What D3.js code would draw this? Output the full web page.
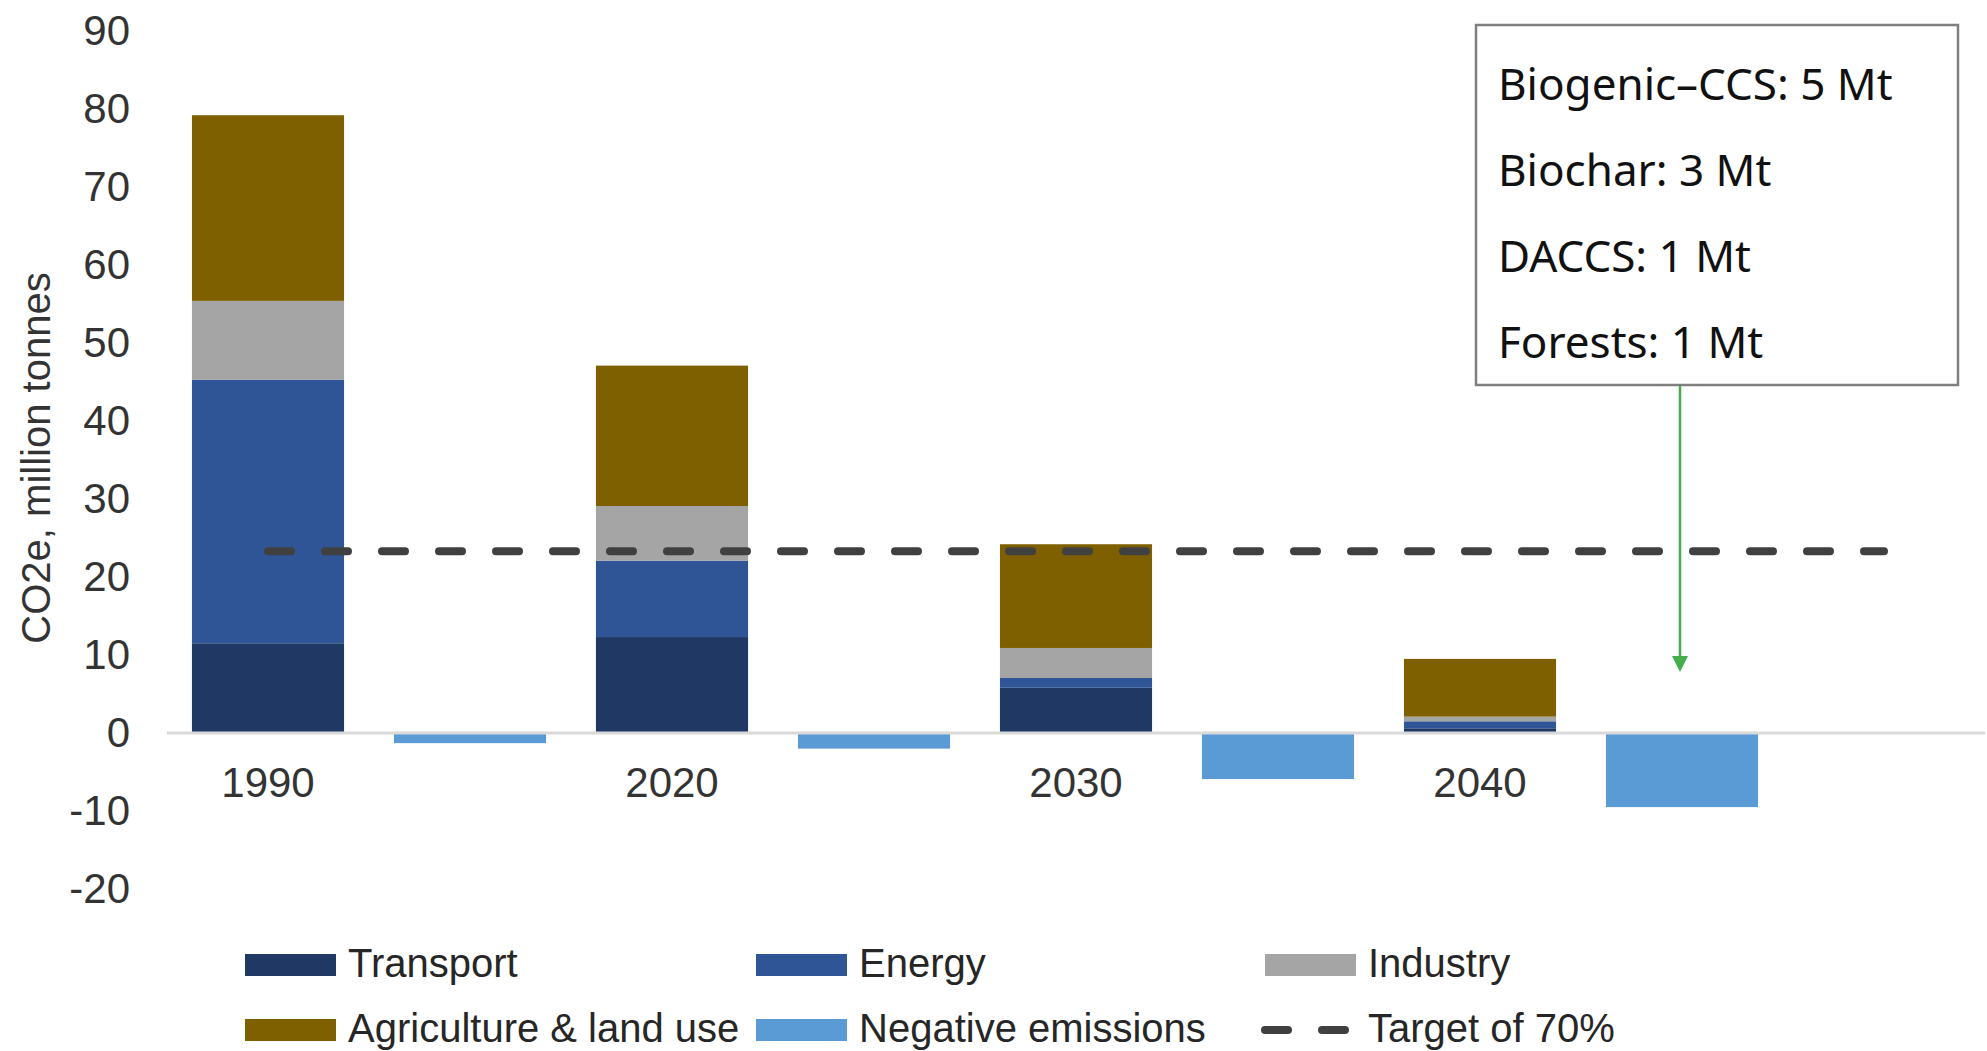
<!DOCTYPE html>
<html>
<head>
<meta charset="utf-8">
<script src="https://cdn.jsdelivr.net/npm/d3@7"></script>
<style>
  html, body { margin: 0; padding: 0; background: #fff; }
  svg { display: block; }
</style>
</head>
<body>
<script>
// Emissions by sector (million tonnes CO2e) and negative emissions per year
const years = ["1990", "2020", "2030", "2040"];
const transport = [11.5, 12.3, 5.8, 0.6];
const energy = [33.8, 9.8, 1.25, 0.9];
const industry = [10.1, 7.0, 3.85, 0.6];
const agriculture = [23.8, 18.0, 13.3, 7.4];
const negativeEmissions = [-1.3, -2.0, -5.9, -9.5];
const targetValue = 23.3;
const yTickValues = [-20, -10, 0, 10, 20, 30, 40, 50, 60, 70, 80, 90];
const removals2040 = ["Biogenic–CCS: 5 Mt", "Biochar: 3 Mt", "DACCS: 1 Mt", "Forests: 1 Mt"];

const sectorKeys = ["Transport", "Energy", "Industry", "Agriculture & land use"];
const sectorValues = [transport, energy, industry, agriculture];
const colors = {
  "Transport": "#203864",
  "Energy": "#2f5597",
  "Industry": "#a5a5a5",
  "Agriculture & land use": "#7f6000",
  "Negative emissions": "#5b9bd5"
};

const W = 1987, H = 1051;
const svg = d3.select("body").append("svg").attr("width", W).attr("height", H);

// each year gets a sector column followed by a removals column, plus one spare slot
const slots = years.flatMap(y => [y, y + "-neg"]).concat(["spare"]);
const x = d3.scaleBand().domain(slots).range([167, 1985])
  .paddingInner(0.247).paddingOuter(0.1235);
const y = d3.scaleLinear().domain([-20, 90]).range([889, 31]);

// stacked sector bars
const rows = years.map((yr, i) => {
  const r = { year: yr };
  sectorKeys.forEach((k, j) => r[k] = sectorValues[j][i]);
  return r;
});
const stacked = d3.stack().keys(sectorKeys)(rows);

svg.append("g").selectAll("g").data(stacked).join("g")
  .attr("fill", d => colors[d.key])
  .selectAll("rect").data(d => d).join("rect")
  .attr("x", d => x(d.data.year))
  .attr("width", x.bandwidth())
  .attr("y", d => y(d[1]))
  .attr("height", d => y(d[0]) - y(d[1]));

// negative emissions bars
svg.append("g").selectAll("rect").data(years).join("rect")
  .attr("fill", colors["Negative emissions"])
  .attr("x", yr => x(yr + "-neg"))
  .attr("width", x.bandwidth())
  .attr("y", y(0))
  .attr("height", (yr, i) => y(negativeEmissions[i]) - y(0));

// zero line
svg.append("line")
  .attr("x1", 167).attr("x2", 1985)
  .attr("y1", y(0)).attr("y2", y(0))
  .attr("stroke", "#d9d9d9").attr("stroke-width", 3);

// target line
const tLine = d3.line()
  .x(d => x(d) + x.bandwidth() / 2)
  .y(() => y(targetValue));
svg.append("path")
  .datum([slots[0], slots[slots.length - 1]])
  .attr("d", tLine)
  .attr("fill", "none")
  .attr("stroke", "#404040")
  .attr("stroke-width", 8)
  .attr("stroke-linecap", "round")
  .attr("stroke-dasharray", "23 34");

// y axis labels (plain hyphen for negatives)
const yAxis = d3.axisLeft(y).tickValues(yTickValues).tickFormat(d => String(d))
  .tickSize(0).tickPadding(0);
const gy = svg.append("g").attr("transform", "translate(130,0)").call(yAxis);
gy.select(".domain").remove();
gy.selectAll("text")
  .attr("font-family", "'Liberation Sans', Arial, sans-serif")
  .attr("font-size", 42)
  .attr("fill", "#333")
  .attr("dy", "0.33em");

// year labels under the sector bars
const xAxis = d3.axisBottom(x).tickValues(years).tickSize(0).tickPadding(0);
const gx = svg.append("g").attr("transform", `translate(0,${y(0)})`).call(xAxis);
gx.select(".domain").remove();
gx.selectAll("text")
  .attr("font-family", "'Liberation Sans', Arial, sans-serif")
  .attr("font-size", 42)
  .attr("fill", "#333")
  .attr("y", 0)
  .attr("dy", 64);

// y axis title
svg.append("text")
  .attr("transform", "translate(50,458) rotate(-90)")
  .attr("text-anchor", "middle")
  .attr("font-family", "'Liberation Sans', Arial, sans-serif")
  .attr("font-size", 40)
  .attr("fill", "#333")
  .text("CO2e, million tonnes");

// legend
const legendItems = [
  { key: "Transport", col: 0, row: 0 },
  { key: "Energy", col: 1, row: 0 },
  { key: "Industry", col: 2, row: 0 },
  { key: "Agriculture & land use", col: 0, row: 1 },
  { key: "Negative emissions", col: 1, row: 1 },
  { key: "Target of 70%", col: 2, row: 1, dashed: true }
];
const colX = [245, 756, 1265];
const rowY = [965, 1030];
const lg = svg.append("g").selectAll("g").data(legendItems).join("g")
  .attr("transform", d => `translate(${colX[d.col]},${rowY[d.row]})`);
lg.filter(d => !d.dashed).append("rect")
  .attr("x", 0).attr("y", -11).attr("width", 91).attr("height", 22)
  .attr("fill", d => colors[d.key]);
lg.filter(d => d.dashed).append("line")
  .attr("x1", 0).attr("x2", 84).attr("y1", 0).attr("y2", 0)
  .attr("stroke", "#404040").attr("stroke-width", 8)
  .attr("stroke-linecap", "round").attr("stroke-dasharray", "23 34");
lg.append("text")
  .attr("x", 103).attr("y", 12)
  .attr("font-family", "'Liberation Sans', Arial, sans-serif")
  .attr("font-size", 40)
  .attr("fill", "#262626")
  .text(d => d.key);

// breakdown of 2040 removals
const box = { x: 1476, y: 25, w: 482, h: 360 };
svg.append("rect")
  .attr("x", box.x).attr("y", box.y).attr("width", box.w).attr("height", box.h)
  .attr("fill", "#fff").attr("stroke", "#7f7f7f").attr("stroke-width", 2.5);
svg.append("g").selectAll("text").data(removals2040).join("text")
  .attr("x", box.x + 22)
  .attr("y", (d, i) => box.y + 75 + i * 86)
  .attr("font-family", "'Noto Sans', sans-serif")
  .attr("font-size", 44)
  .attr("fill", "#111")
  .text(d => d);

// arrow from the box to the 2040 removals bar
const ax = x("2040-neg") + x.bandwidth() / 2 - 2;
const tipY = 672;
svg.append("line")
  .attr("x1", ax).attr("x2", ax)
  .attr("y1", box.y + box.h + 1).attr("y2", tipY - 12)
  .attr("stroke", "#45ad4e").attr("stroke-width", 2.5);
svg.append("path")
  .attr("d", `M${ax - 8},${tipY - 16} L${ax + 8},${tipY - 16} L${ax},${tipY} Z`)
  .attr("fill", "#45ad4e");
</script>
</body>
</html>
